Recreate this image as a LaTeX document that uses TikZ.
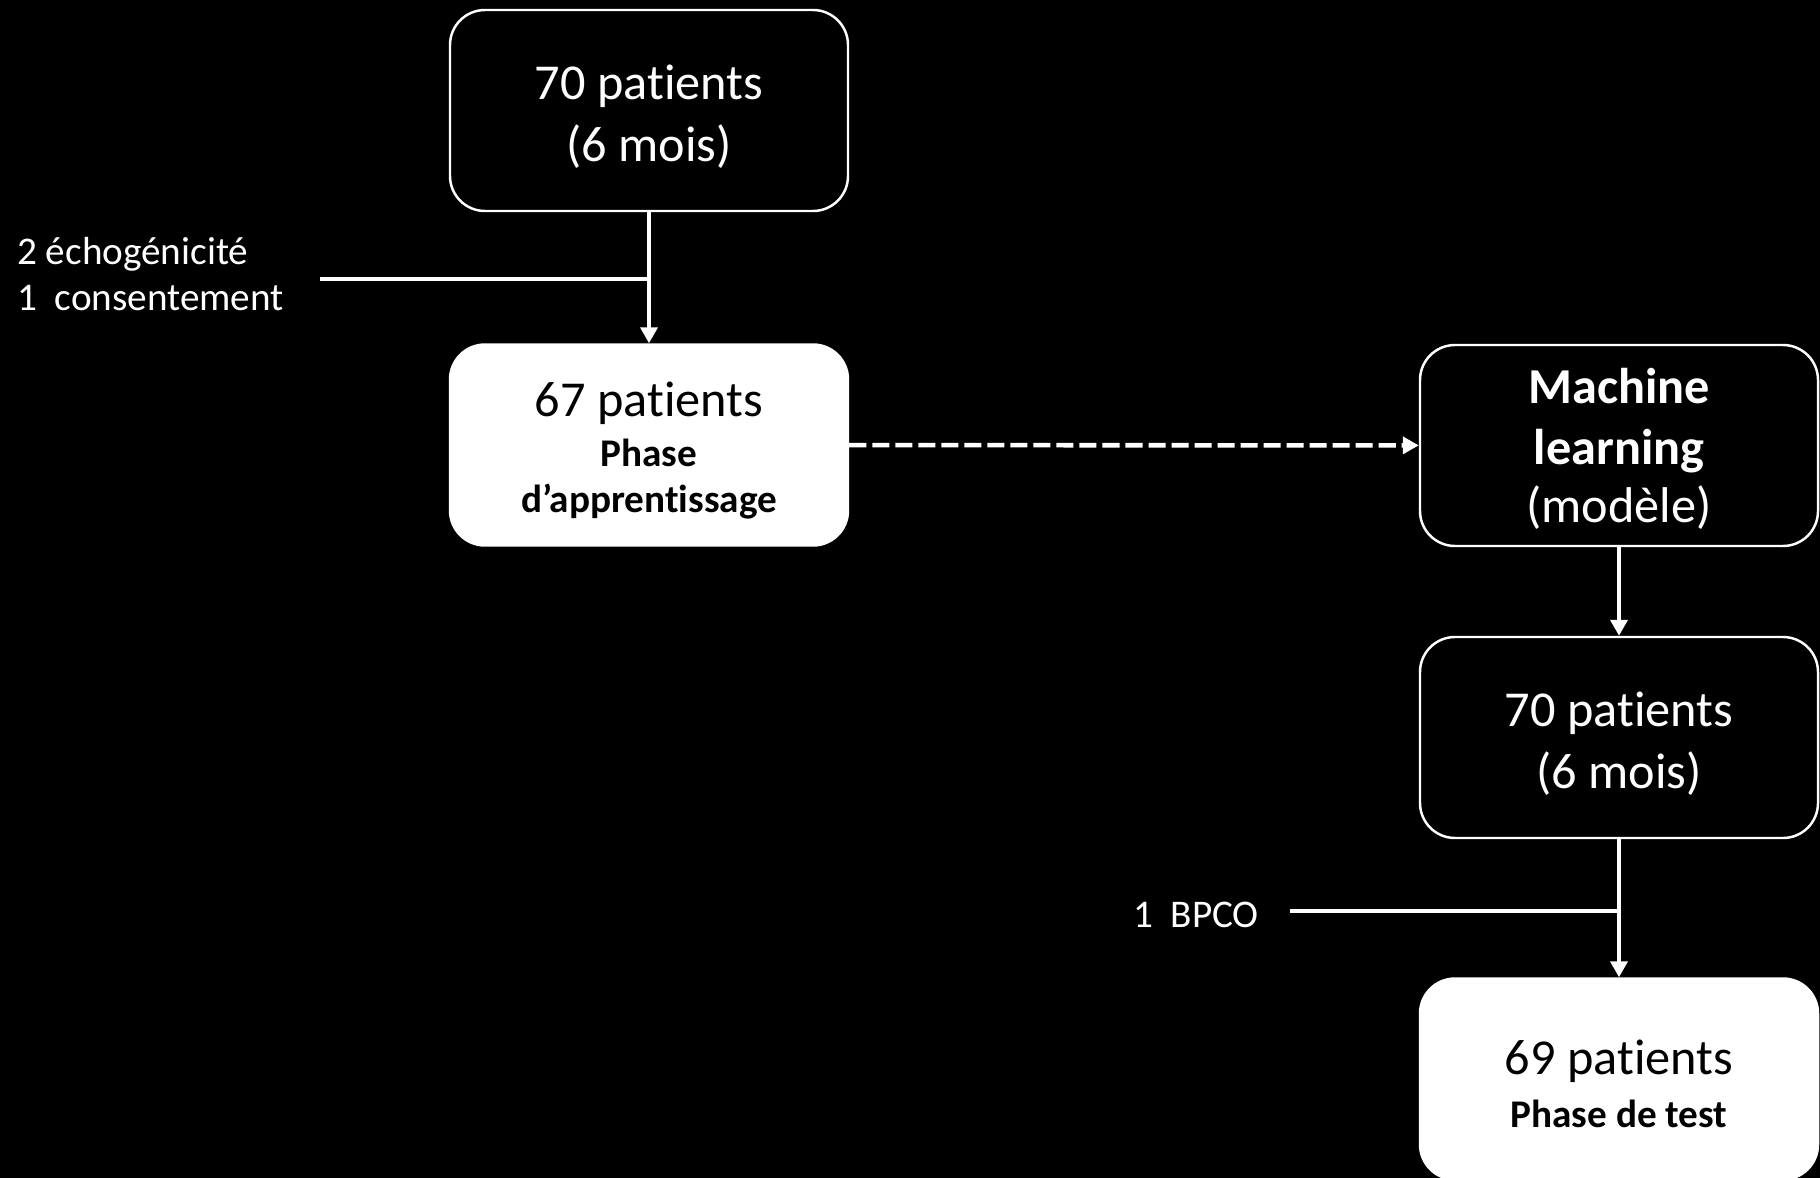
\documentclass[tikz,border=0pt]{standalone}
\usepackage{fontspec}
\setmainfont{Carlito}[Ligatures=NoCommon]
\usetikzlibrary{arrows.meta}

\newcommand{\grand}{\fontsize{28.6}{35}\selectfont}
\newcommand{\petit}{\fontsize{22.3}{26}\selectfont}
\newcommand{\haut}[1]{\rule{0pt}{#1}}

\tikzset{
	boite/.style={draw=white,line width=1.4pt,rounded corners=0.7cm,minimum width=7.96cm,minimum height=4.02cm,align=center,inner sep=0pt,font=\grand},
	boitenoire/.style={boite,fill=black,text=white},
	boiteblanche/.style={boite,fill=white,text=black},
	fleche/.style={white,line width=2.6pt,-{Triangle[length=9pt,width=9.5pt]}},
	trait/.style={white,line width=2.8pt},
}

\begin{document}
\begin{tikzpicture}
		\fill[black] (0,0) rectangle (36.4,-23.56);
		\useasboundingbox (0,0) rectangle (36.4,-23.56);

		\node[boitenoire] (P70) at (12.98,-2.21) {\haut{27pt}70 patients\\(6 mois)};
		\node[boiteblanche] (P67) at (12.98,-8.90) {\haut{25.6pt}67 patients\\[-6.5pt]{\petit\bfseries Phase}\\[-9pt]{\petit\bfseries d’apprentissage}};
		\node[boitenoire] (ML) at (32.38,-8.91) {\haut{24pt}\bfseries Machine\\\bfseries learning\\[-2pt](modèle)};
		\node[boitenoire] (T70) at (32.38,-14.75) {\haut{27pt}70 patients\\(6 mois)};
		\node[boiteblanche] (P69) at (32.38,-21.58) {\haut{25pt}69 patients\\[-4.6pt]{\petit\bfseries Phase de test}};

		\node[anchor=west,align=left,text=white,font=\petit] (excl1) at (0.22,-5.48) {2 échogénicité\\1~~consentement};
		\node[anchor=west,text=white,font=\petit] (excl2) at (22.54,-18.3) {1~~BPCO};

		\coordinate (d1) at (6.4,-5.58);
		\coordinate (d2) at (25.8,-18.22);

		\draw[fleche] (P70) -- (P67);
		\draw[trait] (d1) -- (d1 -| P70.south);

		\draw[fleche,dash pattern=on 9.7pt off 3.4pt] (P67) -- (ML);

		\draw[fleche] (ML) -- (T70);
		\draw[fleche] (T70) -- (P69);
		\draw[trait] (d2) -- (d2 -| T70.south);
\end{tikzpicture}
\end{document}
